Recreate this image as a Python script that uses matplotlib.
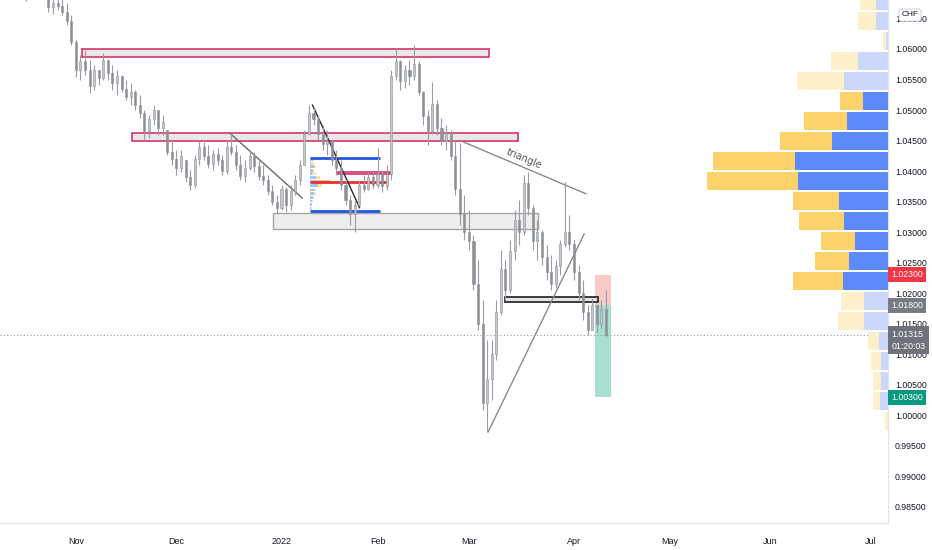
import numpy as np
import pandas as pd
import matplotlib
matplotlib.use('Agg')
import matplotlib.pyplot as plt
import matplotlib.transforms as mtrans
from matplotlib.patches import Rectangle

# EUR/CHF daily candles, first bar 2021-10-08
first_day = '2021-10-08'
highs = [1.0785, 1.0775, 1.0760, 1.0750, 1.0738, 1.0720, 1.0725, 1.0730, 1.0718, 1.0712,
         1.0700, 1.0690, 1.0695, 1.0685, 1.0676, 1.0656,
         1.0615, 1.0590, 1.0598, 1.0582, 1.0574, 1.0566, 1.0593, 1.0582, 1.0574, 1.0566,
         1.0557, 1.0549, 1.0544, 1.0533, 1.0525, 1.0500, 1.0492, 1.0508, 1.0500, 1.0492,
         1.0467, 1.0451, 1.0435, 1.0435, 1.0418, 1.0402, 1.0426, 1.0451, 1.0448, 1.0443,
         1.0435, 1.0438, 1.0426, 1.0451, 1.0462, 1.0443, 1.0426, 1.0418, 1.0435, 1.0431,
         1.0418, 1.0410, 1.0394, 1.0377, 1.0361, 1.0377, 1.0374, 1.0377, 1.0394, 1.0418,
         1.0467, 1.0508, 1.0503, 1.0492, 1.0476, 1.0467, 1.0451, 1.0435, 1.0418, 1.0385,
         1.0361, 1.0353, 1.0385, 1.0394, 1.0399, 1.0402, 1.0438, 1.0402, 1.0410, 1.0566,
         1.0602, 1.0582, 1.0574, 1.0582, 1.0607, 1.0580, 1.0532, 1.0500, 1.0546, 1.0516,
         1.0487, 1.0476, 1.0467, 1.0451, 1.0446, 1.0361, 1.0336, 1.0295, 1.0254, 1.0189,
         1.0124, 1.0124, 1.0189, 1.0271, 1.0254, 1.0287, 1.0336, 1.0353, 1.0394, 1.0399,
         1.0345, 1.0320, 1.0304, 1.0279, 1.0263, 1.0254, 1.0287, 1.0382, 1.0328, 1.0287,
         1.0246, 1.0222, 1.0181, 1.0192, 1.0181, 1.0189, 1.0205]
lows = [1.0745, 1.0735, 1.0720, 1.0712, 1.0700, 1.0678, 1.0688, 1.0695, 1.0685, 1.0682,
        1.0661, 1.0657, 1.0664, 1.0656, 1.0639, 1.0607,
        1.0554, 1.0549, 1.0557, 1.0528, 1.0533, 1.0541, 1.0550, 1.0549, 1.0533, 1.0525,
        1.0530, 1.0516, 1.0508, 1.0500, 1.0487, 1.0451, 1.0454, 1.0476, 1.0459, 1.0459,
        1.0426, 1.0410, 1.0394, 1.0399, 1.0382, 1.0369, 1.0372, 1.0410, 1.0418, 1.0405,
        1.0402, 1.0410, 1.0394, 1.0396, 1.0426, 1.0402, 1.0385, 1.0382, 1.0402, 1.0399,
        1.0385, 1.0377, 1.0361, 1.0345, 1.0331, 1.0336, 1.0333, 1.0336, 1.0361, 1.0377,
        1.0410, 1.0459, 1.0476, 1.0451, 1.0435, 1.0426, 1.0410, 1.0394, 1.0369, 1.0345,
        1.0312, 1.0300, 1.0345, 1.0366, 1.0369, 1.0372, 1.0372, 1.0366, 1.0369, 1.0385,
        1.0549, 1.0533, 1.0536, 1.0541, 1.0549, 1.0525, 1.0476, 1.0443, 1.0460, 1.0459,
        1.0443, 1.0435, 1.0418, 1.0361, 1.0312, 1.0287, 1.0271, 1.0205, 1.0140, 1.0009,
        0.9973, 1.0025, 1.0091, 1.0165, 1.0189, 1.0200, 1.0254, 1.0279, 1.0295, 1.0328,
        1.0271, 1.0254, 1.0246, 1.0222, 1.0205, 1.0209, 1.0230, 1.0275, 1.0271, 1.0222,
        1.0189, 1.0156, 1.0132, 1.0140, 1.0137, 1.0143, 1.0128]
opens = [1.0770, 1.0755, 1.0745, 1.0730, 1.0722, 1.0708, 1.0690, 1.0715, 1.0702, 1.0692,
         1.0688, 1.0668, 1.0675, 1.0670, 1.0660, 1.0645,
         1.0612, 1.0565, 1.0580, 1.0565, 1.0540, 1.0566, 1.0552, 1.0582, 1.0560, 1.0545,
         1.0555, 1.0535, 1.0522, 1.0530, 1.0508, 1.0495, 1.0465, 1.0485, 1.0500, 1.0470,
         1.0467, 1.0432, 1.0420, 1.0405, 1.0418, 1.0390, 1.0378, 1.0420, 1.0440, 1.0425,
         1.0412, 1.0428, 1.0418, 1.0400, 1.0440, 1.0432, 1.0410, 1.0392, 1.0405, 1.0425,
         1.0408, 1.0392, 1.0385, 1.0368, 1.0350, 1.0340, 1.0370, 1.0345, 1.0368, 1.0385,
         1.0410, 1.0460, 1.0495, 1.0485, 1.0460, 1.0445, 1.0450, 1.0418, 1.0405, 1.0378,
         1.0352, 1.0330, 1.0345, 1.0378, 1.0370, 1.0390, 1.0378, 1.0395, 1.0375, 1.0395,
         1.0555, 1.0580, 1.0548, 1.0565, 1.0555, 1.0575, 1.0530, 1.0490, 1.0465, 1.0510,
         1.0470, 1.0450, 1.0462, 1.0425, 1.0370, 1.0330, 1.0300, 1.0285, 1.0215, 1.0150,
         1.0020, 1.0060, 1.0100, 1.0170, 1.0240, 1.0205, 1.0270, 1.0320, 1.0300, 1.0380,
         1.0340, 1.0285, 1.0300, 1.0260, 1.0235, 1.0215, 1.0245, 1.0280, 1.0300, 1.0280,
         1.0235, 1.0200, 1.0170, 1.0140, 1.0180, 1.0150, 1.0175]
closes = [1.0755, 1.0745, 1.0730, 1.0722, 1.0708, 1.0690, 1.0715, 1.0702, 1.0692, 1.0688,
          1.0668, 1.0675, 1.0670, 1.0660, 1.0645, 1.0612,
          1.0565, 1.0580, 1.0565, 1.0540, 1.0566, 1.0552, 1.0582, 1.0560, 1.0545, 1.0555,
          1.0535, 1.0522, 1.0530, 1.0508, 1.0495, 1.0465, 1.0485, 1.0500, 1.0470, 1.0480,
          1.0432, 1.0420, 1.0405, 1.0425, 1.0390, 1.0378, 1.0420, 1.0440, 1.0425, 1.0412,
          1.0428, 1.0418, 1.0400, 1.0440, 1.0432, 1.0410, 1.0392, 1.0405, 1.0425, 1.0408,
          1.0392, 1.0385, 1.0368, 1.0350, 1.0340, 1.0370, 1.0345, 1.0368, 1.0385, 1.0410,
          1.0460, 1.0495, 1.0485, 1.0460, 1.0445, 1.0450, 1.0418, 1.0405, 1.0378, 1.0352,
          1.0330, 1.0345, 1.0378, 1.0370, 1.0390, 1.0378, 1.0395, 1.0375, 1.0395, 1.0555,
          1.0580, 1.0548, 1.0565, 1.0555, 1.0575, 1.0530, 1.0490, 1.0465, 1.0510, 1.0470,
          1.0450, 1.0462, 1.0425, 1.0370, 1.0330, 1.0300, 1.0285, 1.0215, 1.0150, 1.0020,
          1.0060, 1.0100, 1.0170, 1.0240, 1.0205, 1.0270, 1.0320, 1.0300, 1.0380, 1.0340,
          1.0285, 1.0300, 1.0260, 1.0235, 1.0215, 1.0245, 1.0280, 1.0300, 1.0280, 1.0235,
          1.0200, 1.0170, 1.0140, 1.0180, 1.0150, 1.0175, 1.01315]
last_price = 1.01315
countdown = '01:20:03'

# visible range volume profile (right side)
vp_rows = [1.06786, 1.06458, 1.06131, 1.05804, 1.05476, 1.05149, 1.04821, 1.04494,
           1.04166, 1.03839, 1.03511, 1.03184, 1.02856, 1.02529, 1.02201, 1.01874,
           1.01546, 1.01219, 1.00891, 1.00564, 1.00236, 0.99909]
vp_up = [12, 12, 2, 30, 44, 25, 41, 56, 93, 90, 49, 44, 33, 39, 45, 24, 24, 9, 7, 7, 8, 0]
vp_down = [16, 18, 3, 27, 47, 23, 43, 52, 82, 91, 46, 45, 34, 34, 50, 23, 26, 11, 10, 8, 7, 3]
vp_value_area = [False, False, False, False, False, True, True, True, True, True, True,
                 True, True, True, True, False, False, False, False, False, False, False]
vp_row_height = 0.00325

# session volume profile (Jan 11 - Feb 3)
mini_rows = [1.0418, 1.0413, 1.0407, 1.0401, 1.0396, 1.0390, 1.0383, 1.0376, 1.0369,
             1.0363, 1.0357, 1.0351, 1.0345, 1.0339]
mini_up = [3, 1, 4, 3, 2, 6, 8, 8, 5, 4, 3, 2, 2, 1.5]
mini_down = [1, 3, 2, 1, 4, 4, 12, 4, 1, 2, 1, 1, 0.5, 0.5]
mini_start = '2022-01-11 05:00'
mini_vah, mini_val, mini_poc = 1.0422, 1.0335, 1.0382
mini_va_end = '2022-02-01 12:00'
mini_poc_end = '2022-02-03 07:00'

# drawings: zones (start, end, low, high)
pink_zones = [('2021-11-02 07:00', '2022-03-07 10:00', 1.0587, 1.0600),
              ('2021-11-17 07:00', '2022-03-15 17:00', 1.0450, 1.0462),
              ('2022-01-19 07:00', '2022-02-03 17:00', 1.0395, 1.0399)]
gray_zone = ('2021-12-30 02:00', '2022-03-22 02:00', 1.0306, 1.0331)
dark_zone = ('2022-03-10 22:00', '2022-04-08 05:00', 1.0186, 1.0194)
trend_lines = [(('2021-12-16 17:00', 1.0462), ('2022-01-07 12:00', 1.0356), '#6b6b6b'),
               (('2022-01-11 19:00', 1.0508), ('2022-01-26 02:00', 1.0340), '#2b2b2b'),
               (('2022-02-25 17:00', 1.0448), ('2022-04-05 14:00', 1.0363), '#8a8a8a'),
               (('2022-03-07 05:00', 0.9973), ('2022-04-05 05:00', 1.0297), '#8a8a8a')]
triangle_label = ('2022-03-17 00:00', 1.0421, 'triangle')
# short position: start, end, entry, stop, target
position = ('2022-04-07 14:00', '2022-04-13 02:00', 1.0180, 1.0230, 1.0030)

price_ticks = [0.985, 0.990, 0.995, 1.000, 1.005, 1.010, 1.015, 1.020, 1.025,
               1.030, 1.035, 1.040, 1.045, 1.050, 1.055, 1.060, 1.065]
month_labels = ['Nov', 'Dec', '2022', 'Feb', 'Mar', 'Apr', 'May', 'Jun', 'Jul']
month_starts = ['2021-11-01', '2021-12-01', '2022-01-01', '2022-02-01', '2022-03-01',
                '2022-04-01', '2022-05-01', '2022-06-01', '2022-07-01']

# ---- trading-day axis ----
cal = pd.bdate_range(first_day, '2022-08-31')
origin = cal.get_loc(pd.Timestamp('2021-11-01'))


def pos(stamp):
    t = pd.Timestamp(stamp)
    day = t.normalize()
    i = cal.searchsorted(day)
    return i - origin + (t - day) / pd.Timedelta(hours=24)


x = np.arange(len(closes)) - origin
o = np.array(opens)
c = np.array(closes)
h = np.array(highs)
l = np.array(lows)

fig = plt.figure(figsize=(9.32, 5.5), dpi=100)
ax = fig.add_axes([0, 27 / 550, 888 / 932, 523 / 550])
ax.set_xlim(-16.6, 177.7)
ax.set_ylim(0.98238, 1.06802)

# zones
for s, e, lo, hi in pink_zones:
    ax.add_patch(Rectangle((pos(s), lo), pos(e) - pos(s), hi - lo, facecolor='#e8e8e8',
                           edgecolor='#d6336c', lw=1.2, zorder=2))
s, e, lo, hi = gray_zone
ax.add_patch(Rectangle((pos(s), lo), pos(e) - pos(s), hi - lo, facecolor='#eeeeee',
                       edgecolor='#a5a5a5', lw=1.0, zorder=1.5))
s, e, lo, hi = dark_zone
ax.add_patch(Rectangle((pos(s), lo), pos(e) - pos(s), hi - lo, facecolor='#e4e4e4',
                       edgecolor='#2e2e2e', lw=1.3, zorder=3))

# short position box
s, e, entry, stop, target = position
ax.add_patch(Rectangle((pos(s), entry), pos(e) - pos(s), stop - entry,
                       facecolor='#f8cbc9', edgecolor='none', zorder=1))
ax.add_patch(Rectangle((pos(s), target), pos(e) - pos(s), entry - target,
                       facecolor='#a9ded3', edgecolor='none', zorder=1))

# session profile
x0 = pos(mini_start)
unit = 0.22
for p, u, d in zip(mini_rows, mini_up, mini_down):
    ax.barh(p, u * unit, left=x0, height=0.00045, color='#a9c4f3', zorder=2)
    ax.barh(p, d * unit, left=x0 + u * unit, height=0.00045,
            color='#f6c27a' if p == mini_rows[6] else '#fbe3a6', zorder=2)
ax.hlines([mini_vah, mini_val], x0, pos(mini_va_end), colors='#2456e0', lw=2, zorder=4)
ax.hlines(mini_poc, x0, pos(mini_poc_end), colors='#e5302f', lw=2, zorder=4)

# trend lines
for (s, p1), (e, p2), col in trend_lines:
    ax.plot([pos(s), pos(e)], [p1, p2], color=col, lw=1.0, zorder=4)
s, p, txt = triangle_label
ax.text(pos(s), p, txt, fontsize=7, color='#555555', rotation=-23,
        ha='center', va='center', rotation_mode='anchor', zorder=5)

# candles
up = c >= o
ax.vlines(x, l, h, colors='#9a9ca3', lw=0.8, zorder=5)
ax.bar(x, np.maximum(np.abs(c - o), 0.00006), bottom=np.minimum(o, c), width=0.45,
       color=np.where(up, '#c4c6cc', '#8d9097'), edgecolor='#8d9097', lw=0.4, zorder=6)

# last price line
ax.axhline(last_price, color='#9598a1', lw=0.8, ls=(0, (1, 2)), zorder=3)

# volume profile on the right
axv = ax.twiny()
axv.set_xlim(max(np.add(vp_up, vp_down)) / 0.204, 0)
for p, u, d, va in zip(vp_rows, vp_up, vp_down, vp_value_area):
    axv.barh(p, u, height=vp_row_height * 0.93, color='#5d8af9' if va else '#cbd7fb', zorder=2)
    axv.barh(p, d, left=u, height=vp_row_height * 0.93, color='#fcd26b' if va else '#fdefca', zorder=2)
axv.set_xticks([])
for sp in axv.spines.values():
    sp.set_visible(False)

# axes styling
font = ['Liberation Sans', 'DejaVu Sans']
for sp in ['top', 'left']:
    ax.spines[sp].set_visible(False)
ax.spines['right'].set_color('#e0e3eb')
ax.spines['bottom'].set_color('#e0e3eb')
ax.yaxis.tick_right()
ax.set_yticks(price_ticks)
ax.set_yticklabels([f'{t:.5f}' for t in price_ticks], family=font)
ax.tick_params(axis='y', length=0, pad=5, labelsize=6.3, labelcolor='#131722')
ax.set_xticks([pos(cal[cal >= pd.Timestamp(m)][0]) for m in month_starts])
ax.set_xticklabels(month_labels, family=font)
ax.tick_params(axis='x', length=0, pad=10, labelsize=6.5, labelcolor='#131722')

# price axis labels
tr = mtrans.blended_transform_factory(ax.transAxes, ax.transData)
for p, txt, col in [(stop, f'{stop:.5f}', '#f23645'), (entry, f'{entry:.5f}', '#787b86'),
                    (target, f'{target:.5f}', '#089981')]:
    ax.text(1.004, p, txt, transform=tr, fontsize=6.3, family=font, color='white',
            ha='left', va='center', clip_on=False, zorder=10,
            bbox=dict(boxstyle='square,pad=0.35', fc=col, ec='none'))
ax.annotate(f'{last_price:.5f}\n{countdown}', xy=(1.004, last_price), xycoords=tr,
            xytext=(0, 4), textcoords='offset points', fontsize=6.3, family=font,
            color='white', ha='left', va='top', linespacing=1.45, annotation_clip=False,
            zorder=10, bbox=dict(boxstyle='square,pad=0.35', fc='#6f727c', ec='none'))
fig.text(910 / 932, 1 - 15 / 550, 'CHF', fontsize=6, family=font, color='#131722',
         ha='center', va='center', zorder=20,
         bbox=dict(boxstyle='round,pad=0.3', fc='white', ec='#d1d4dc', lw=0.8))

fig.savefig('out.png', dpi=100)
